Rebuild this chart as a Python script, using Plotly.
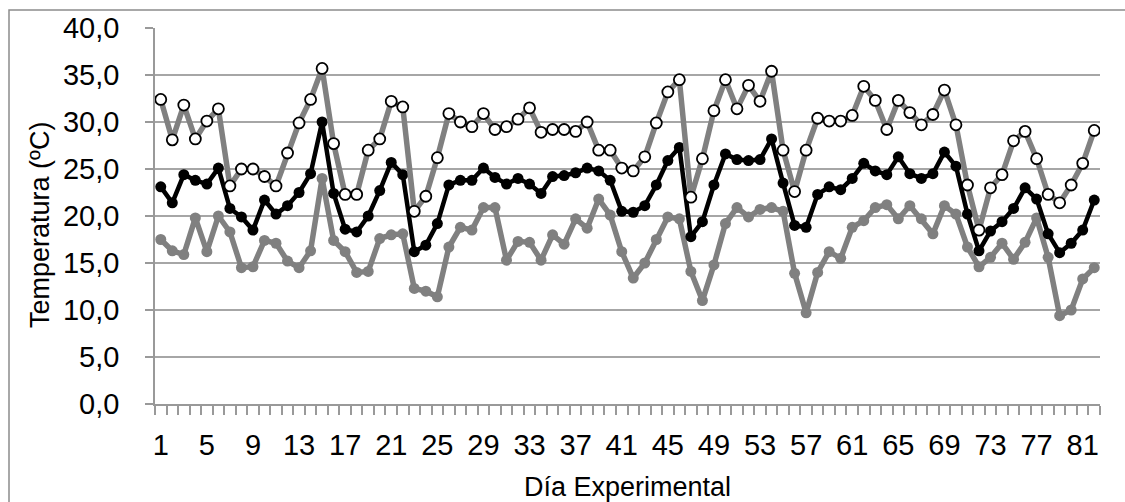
import plotly.graph_objects as go

days = list(range(1, 83))

temp_max = [32.4, 28.1, 31.8, 28.2, 30.1, 31.4, 23.2, 25.0, 25.0, 24.2,
            23.2, 26.7, 29.9, 32.4, 35.7, 27.7, 22.3, 22.3, 27.0, 28.2,
            32.2, 31.6, 20.5, 22.1, 26.2, 30.9, 30.0, 29.5, 30.9, 29.2,
            29.5, 30.3, 31.5, 28.9, 29.2, 29.2, 29.0, 30.0, 27.0, 27.0,
            25.1, 24.8, 26.3, 29.9, 33.2, 34.5, 22.0, 26.1, 31.2, 34.5,
            31.4, 33.9, 32.2, 35.4, 27.0, 22.6, 27.0, 30.4, 30.1, 30.1,
            30.7, 33.8, 32.3, 29.2, 32.3, 31.0, 29.7, 30.8, 33.4, 29.7,
            23.3, 18.5, 23.0, 24.4, 28.0, 29.0, 26.1, 22.3, 21.4, 23.3,
            25.6, 29.1]

temp_mean = [23.1, 21.4, 24.4, 23.8, 23.4, 25.1, 20.8, 19.9, 18.5, 21.7,
             20.2, 21.1, 22.5, 24.5, 30.0, 22.4, 18.6, 18.3, 20.0, 22.7,
             25.7, 24.4, 16.2, 16.9, 19.2, 23.3, 23.8, 23.8, 25.1, 24.1,
             23.4, 24.0, 23.4, 22.4, 24.2, 24.3, 24.6, 25.1, 24.8, 23.8,
             20.5, 20.4, 21.1, 23.3, 25.9, 27.3, 17.8, 19.4, 23.3, 26.6,
             26.0, 25.9, 26.0, 28.2, 23.5, 19.0, 18.8, 22.3, 23.1, 22.8,
             24.0, 25.6, 24.8, 24.4, 26.3, 24.5, 24.0, 24.5, 26.8, 25.3,
             20.2, 16.3, 18.4, 19.4, 20.8, 23.0, 21.8, 18.1, 16.1, 17.1,
             18.5, 21.7]

temp_min = [17.5, 16.3, 15.9, 19.8, 16.2, 20.0, 18.3, 14.5, 14.6, 17.4,
            17.1, 15.2, 14.5, 16.3, 24.0, 17.4, 16.2, 14.0, 14.1, 17.6,
            18.0, 18.1, 12.3, 12.0, 11.4, 16.7, 18.8, 18.5, 20.9, 20.9,
            15.3, 17.3, 17.2, 15.3, 18.0, 17.0, 19.7, 18.7, 21.8, 20.1,
            16.2, 13.4, 15.0, 17.5, 19.9, 19.7, 14.1, 11.0, 14.8, 19.2,
            20.9, 19.9, 20.7, 20.9, 20.5, 13.9, 9.7, 14.0, 16.2, 15.5,
            18.8, 19.5, 20.9, 21.2, 19.7, 21.1, 19.7, 18.1, 21.1, 20.2,
            16.7, 14.6, 15.6, 17.1, 15.4, 17.2, 19.8, 15.6, 9.4, 10.0,
            13.3, 14.5]

x_tick_vals = list(range(1, 83, 4))
x_tick_text = [str(v) for v in x_tick_vals]
y_tick_vals = [0, 5, 10, 15, 20, 25, 30, 35, 40]
y_tick_text = [("%.1f" % v).replace(".", ",") for v in y_tick_vals]

x_title = "Día Experimental"
y_title = "Temperatura (ºC)"

GRAY = "#808080"
FONT = "Liberation Sans, Arial, sans-serif"

# plot area in pixels: left 155, right 1100, top 28, bottom 404
L, R, T, B = 155, 1100, 28, 404
W, H = R - L, B - T

fig = go.Figure()
fig.add_trace(go.Scatter(
    x=days, y=temp_min, mode="lines+markers", name="Mínima",
    line=dict(color=GRAY, width=5.5),
    marker=dict(color=GRAY, size=11, line=dict(width=0)),
))
fig.add_trace(go.Scatter(
    x=days, y=temp_mean, mode="lines+markers", name="Media",
    line=dict(color="black", width=4.5),
    marker=dict(color="black", size=11, line=dict(width=0)),
))
fig.add_trace(go.Scatter(
    x=days, y=temp_max, mode="lines+markers", name="Máxima",
    line=dict(color=GRAY, width=5.5),
    marker=dict(color="white", size=11, line=dict(color="black", width=1.8)),
))

fig.update_layout(
    width=1125, height=502,
    margin=dict(l=L, r=1125 - R, t=T, b=502 - B, autoexpand=False),
    paper_bgcolor="white", plot_bgcolor="white",
    showlegend=False,
    font=dict(family=FONT, color="black"),
    xaxis=dict(
        range=[0.5, 82.5], automargin=False,
        tickmode="array", tickvals=x_tick_vals, ticktext=x_tick_text,
        ticks="", showgrid=False, zeroline=False,
        showline=True, linecolor="#999999", linewidth=1.5,
        tickfont=dict(size=29, family=FONT, color="black"),
        ticklabelstandoff=14,
        minor=dict(tickmode="array", tickvals=[i + 0.5 for i in range(0, 83)],
                   ticks="outside", ticklen=9, tickcolor="#999999",
                   tickwidth=1.5, showgrid=False),
    ),
    yaxis=dict(
        range=[0, 40], automargin=False,
        tickmode="array", tickvals=y_tick_vals, ticktext=y_tick_text,
        ticks="outside", ticklen=8, tickcolor="#999999", tickwidth=1.5,
        showgrid=True, gridcolor="#a6a6a6", gridwidth=1.5,
        zeroline=False,
        showline=True, linecolor="#999999", linewidth=1.5,
        tickfont=dict(size=29, family=FONT, color="black"),
        ticklabelstandoff=20,
    ),
    annotations=[
        dict(text=x_title, xref="paper", yref="paper",
             x=((L + R) / 2 - L) / W, y=(B - 487) / H,
             xanchor="center", yanchor="middle", showarrow=False,
             font=dict(size=27, family=FONT, color="black")),
        dict(text=y_title, xref="paper", yref="paper",
             x=(40 - L) / W, y=(B - 225) / H, textangle=-90,
             xanchor="center", yanchor="middle", showarrow=False,
             font=dict(size=27, family=FONT, color="black")),
    ],
    shapes=[dict(
        type="rect", xref="paper", yref="paper",
        x0=(9 - L) / W, x1=(1135 - L) / W,
        y0=(B - 530) / H, y1=1 + (T - 10) / H,
        line=dict(color="#8c8c8c", width=1.5), fillcolor="rgba(0,0,0,0)",
        layer="below",
    )],
)

fig.write_html("out.html")
